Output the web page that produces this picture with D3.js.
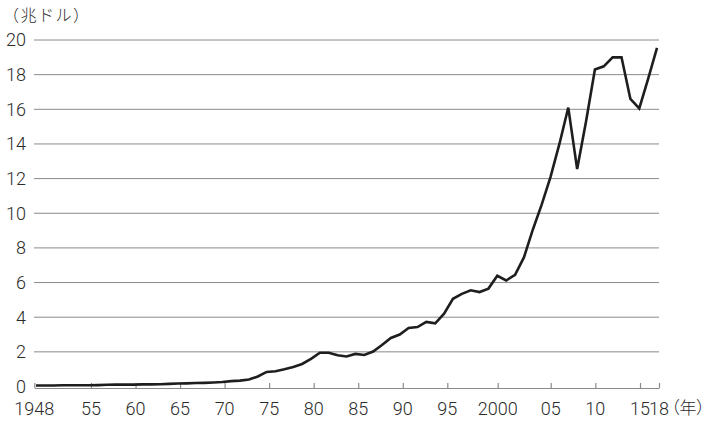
<!DOCTYPE html>
<html>
<head>
<meta charset="utf-8">
<script src="https://cdn.jsdelivr.net/npm/d3@7"></script>
<style>
  html, body { margin: 0; padding: 0; background: #fff; }
  svg { display: block; }
  text { font-family: Roboto, "Noto Sans CJK JP", sans-serif; font-weight: 300; fill: #2b2b2b; }
  .jp { font-family: "Noto Sans CJK JP", sans-serif; font-weight: 300; }
  .prop { font-feature-settings: "palt"; }
</style>
</head>
<body>
<svg id="chart" width="709" height="423"></svg>
<script>
// World merchandise exports, trillion US dollars, 1948–2018
const years = d3.range(1948, 2019);
const values = [
  0.06, 0.06, 0.06, 0.07, 0.07, 0.07, 0.07, 0.08, 0.10, 0.11,   // 1948–1957
  0.11, 0.11, 0.12, 0.12, 0.13, 0.15, 0.17, 0.18, 0.20, 0.21,   // 1958–1967
  0.23, 0.26, 0.31, 0.34, 0.40, 0.58, 0.84, 0.88, 0.99, 1.13,   // 1968–1977
  1.30, 1.60, 1.95, 1.95, 1.80, 1.73, 1.88, 1.82, 2.02, 2.40,   // 1978–1987
  2.80, 3.00, 3.38, 3.43, 3.73, 3.65, 4.20, 5.06, 5.35, 5.55,   // 1988–1997
  5.45, 5.65, 6.39, 6.12, 6.45, 7.45, 9.05, 10.50, 12.10, 14.00, // 1998–2007
  16.10, 12.55, 15.30, 18.30, 18.48, 19.00, 19.00, 16.60, 16.05, 17.75, // 2008–2017
  19.55                                                          // 2018
];
const yTicks = [0, 2, 4, 6, 8, 10, 12, 14, 16, 18, 20];
const xTickYears = [1948, 1955, 1960, 1965, 1970, 1975, 1980, 1985, 1990, 1995, 2000, 2005, 2010, 2015, 2018];
const xTickLabels = ["1948", "55", "60", "65", "70", "75", "80", "85", "90", "95", "2000", "05", "10", "15", "18"];
const yUnit = "（兆ドル）";
const xUnit = "（年）";

const svg = d3.select("#chart");
const left = 34, right = 659;

// plotting scales
const x = d3.scaleLinear().domain([1948, 2018]).range([36, 657]);
const y = d3.scaleLinear().domain([0, 20]).range([386.5, 40]);

// the year axis is laid out in segments
const xAxisScale = d3.scaleLinear()
  .domain([1948, 1955, 1995, 2000, 2005, 2015, 2018])
  .range([34.3, 91, 447.3, 497.7, 550.7, 640, 659]);

// horizontal gridlines
svg.append("g")
  .selectAll("line")
  .data(yTicks.filter(d => d > 0))
  .join("line")
  .attr("x1", left).attr("x2", right)
  .attr("y1", d => y(d)).attr("y2", d => y(d))
  .attr("stroke", "#8a8a8a")
  .attr("stroke-width", 1);

// y tick labels
svg.append("g")
  .selectAll("text")
  .data(yTicks)
  .join("text")
  .attr("x", 26)
  .attr("y", d => y(d))
  .attr("dy", "0.35em")
  .attr("text-anchor", "end")
  .attr("font-size", 18)
  .text(d => d);

// x axis
const xAxis = d3.axisTop(xAxisScale)
  .tickValues(xTickYears)
  .tickFormat("")
  .tickSize(5)
  .tickSizeOuter(0);
const gx = svg.append("g")
  .attr("transform", `translate(0,${y(0) + 1.5})`)
  .call(xAxis);
gx.select(".domain").attr("stroke", "#8a8a8a").attr("stroke-width", 1.2);
gx.selectAll(".tick line").attr("stroke", "#8a8a8a").attr("stroke-width", 1.2);

svg.append("g")
  .selectAll("text")
  .data(xTickYears)
  .join("text")
  .attr("x", d => xAxisScale(d))
  .attr("y", 415)
  .attr("text-anchor", "middle")
  .attr("font-size", 18)
  .text((d, i) => xTickLabels[i]);

svg.append("text")
  .attr("class", "jp prop")
  .attr("x", xAxisScale(2018) + 12)
  .attr("y", 414)
  .attr("font-size", 17)
  .text(xUnit);

svg.append("text")
  .attr("class", "jp")
  .attr("x", 3)
  .attr("y", 21)
  .attr("font-size", 16)
  .attr("letter-spacing", 1.5)
  .text(yUnit);

// the series line
const line = d3.line()
  .x((d, i) => x(years[i]))
  .y(d => y(d));

svg.append("path")
  .datum(values)
  .attr("d", line)
  .attr("fill", "none")
  .attr("stroke", "#1e1e1e")
  .attr("stroke-width", 2.6)
  .attr("stroke-linejoin", "miter");
</script>
</body>
</html>
